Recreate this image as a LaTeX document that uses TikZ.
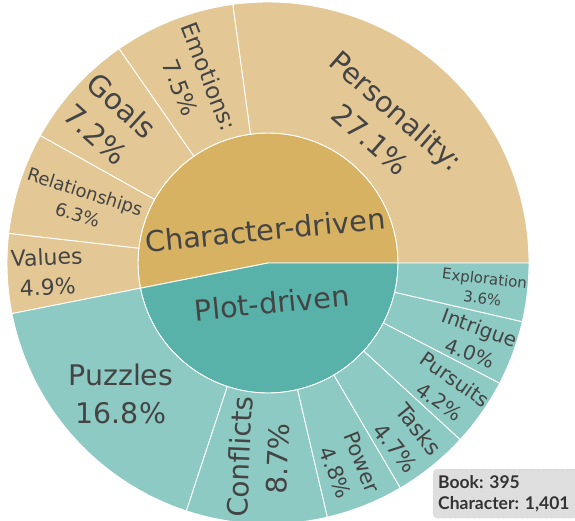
\documentclass[tikz,border=0pt]{standalone}
\usepackage{fontspec}
\setmainfont{DejaVu Sans}
\newfontfamily\tipfont{Lato}
\usepackage{tikz}

\definecolor{charin}{HTML}{D8B263}
\definecolor{charout}{HTML}{E3C896}
\definecolor{plotin}{HTML}{58B2A9}
\definecolor{plotout}{HTML}{8DCAC3}
\definecolor{labelgray}{HTML}{444444}
\definecolor{tipfill}{HTML}{DEDEDE}
\definecolor{tipedge}{HTML}{B4B4B4}

\newcommand{\fsz}[1]{\fontsize{#1}{\dimexpr #1pt*27/20\relax}\selectfont}

\tikzset{
  seg/.style={draw=white, line width=0.9pt},
  seglabel/.style={text=labelgray, align=center, inner sep=0pt},
  tipbox/.style={fill=tipfill, draw=tipedge, dotted, rounded corners=4pt,
    align=left, inner xsep=5pt, inner ysep=0pt, text=black!80}
}

\begin{document}
\frenchspacing
\begin{tikzpicture}[x=1pt, y=1pt]
  \useasboundingbox (-268,-258) rectangle (307,263);

  % Inner ring
  \filldraw[seg, fill=charin] (0,0) -- (0:130) arc[start angle=0, end angle=191.18, radius=130] -- cycle;
  \filldraw[seg, fill=plotin] (0,0) -- (191.18:130) arc[start angle=191.18, end angle=360, radius=130] -- cycle;

  % Outer ring
  \filldraw[seg, fill=charout] (0:130) arc[start angle=0, end angle=97.76, radius=130] -- (97.76:261) arc[start angle=97.76, end angle=0, radius=261] -- cycle;
  \filldraw[seg, fill=charout] (97.76:130) arc[start angle=97.76, end angle=124.81, radius=130] -- (124.81:261) arc[start angle=124.81, end angle=97.76, radius=261] -- cycle;
  \filldraw[seg, fill=charout] (124.81:130) arc[start angle=124.81, end angle=150.78, radius=130] -- (150.78:261) arc[start angle=150.78, end angle=124.81, radius=261] -- cycle;
  \filldraw[seg, fill=charout] (150.78:130) arc[start angle=150.78, end angle=173.51, radius=130] -- (173.51:261) arc[start angle=173.51, end angle=150.78, radius=261] -- cycle;
  \filldraw[seg, fill=charout] (173.51:130) arc[start angle=173.51, end angle=191.18, radius=130] -- (191.18:261) arc[start angle=191.18, end angle=173.51, radius=261] -- cycle;
  \filldraw[seg, fill=plotout] (191.18:130) arc[start angle=191.18, end angle=251.78, radius=130] -- (251.78:261) arc[start angle=251.78, end angle=191.18, radius=261] -- cycle;
  \filldraw[seg, fill=plotout] (251.78:130) arc[start angle=251.78, end angle=283.16, radius=130] -- (283.16:261) arc[start angle=283.16, end angle=251.78, radius=261] -- cycle;
  \filldraw[seg, fill=plotout] (283.16:130) arc[start angle=283.16, end angle=300.48, radius=130] -- (300.48:261) arc[start angle=300.48, end angle=283.16, radius=261] -- cycle;
  \filldraw[seg, fill=plotout] (300.48:130) arc[start angle=300.48, end angle=317.43, radius=130] -- (317.43:261) arc[start angle=317.43, end angle=300.48, radius=261] -- cycle;
  \filldraw[seg, fill=plotout] (317.43:130) arc[start angle=317.43, end angle=332.58, radius=130] -- (332.58:261) arc[start angle=332.58, end angle=317.43, radius=261] -- cycle;
  \filldraw[seg, fill=plotout] (332.58:130) arc[start angle=332.58, end angle=347.01, radius=130] -- (347.01:261) arc[start angle=347.01, end angle=332.58, radius=261] -- cycle;
  \filldraw[seg, fill=plotout] (347.01:130) arc[start angle=347.01, end angle=360, radius=130] -- (360:261) arc[start angle=360, end angle=347.01, radius=261] -- cycle;

  % Nodes
  \node[seglabel, font=\fsz{28.7}, rotate=5.6] (chardriven) at (95:33) {Character-driven};
  \node[seglabel, font=\fsz{28.7}, rotate=5.6] (plotdriven) at (276:40) {Plot-driven};

  \node[seglabel, font=\fsz{28.5}, rotate=-41.1] (personality) at (50:180) {Personality:\\27.1\%};
  \node[seglabel, font=\fsz{23}, rotate=-68.7] (emotions) at (112:195) {Emotions:\\7.5\%};
  \node[seglabel, font=\fsz{29}, rotate=-42.2] (goals) at (138:214) {Goals\\7.2\%};
  \node[seglabel, font=\fsz{18}, rotate=-17.9] (relationships) at (162.2:196) {Relationships\\6.3\%};
  \node[seglabel, font=\fsz{22}, rotate=2.4] (values) at (182.3:221) {Values\\4.9\%};
  \node[seglabel, font=\fsz{28.4}] (puzzles) at (221.7:197) {Puzzles\\16.8\%};
  \node[seglabel, font=\fsz{28}, rotate=87.5] (conflicts) at (267.2:195) {Conflicts\\8.7\%};
  \node[seglabel, font=\fsz{21}, rotate=-68.2] (power) at (291.5:220) {Power\\4.8\%};
  \node[seglabel, font=\fsz{22}, rotate=-51] (tasks) at (308.5:224) {Tasks\\4.7\%};
  \node[seglabel, font=\fsz{20}, rotate=-35] (pursuits) at (324.6:220) {Pursuits\\4.2\%};
  \node[seglabel, font=\fsz{20}, rotate=-20.2] (intrigue) at (339.5:221) {Intrigue\\4.0\%};
  \node[seglabel, font=\fsz{15}, rotate=-6.5] (exploration) at (353.3:217) {Exploration\\3.6\%};

  \node[tipbox, font=\tipfont\bfseries\fontsize{17.5}{21.5}\selectfont, anchor=north west,
    text width=138pt, minimum height=49pt] (tip) at (165,-206) {Book: 395\\Character: 1,401};
\end{tikzpicture}
\end{document}
